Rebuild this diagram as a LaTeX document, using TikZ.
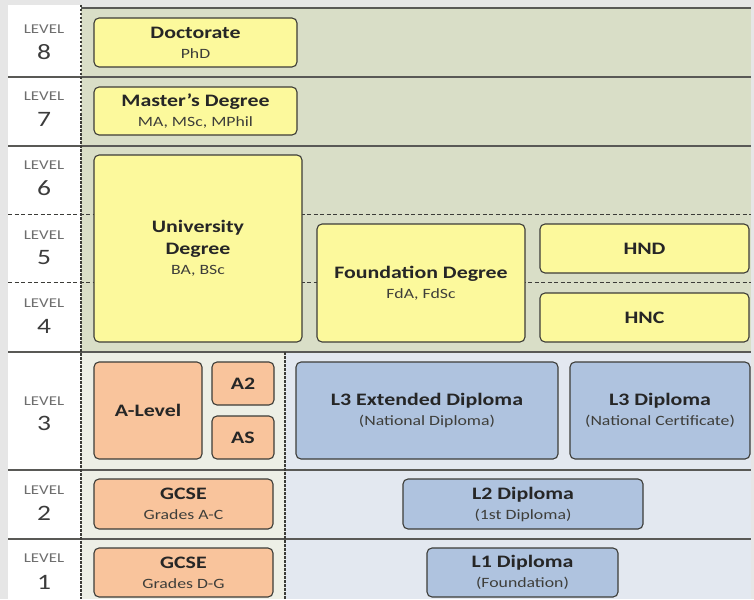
\documentclass[tikz,border=0pt]{standalone}
\usepackage{fontspec}
\setmainfont{Carlito}[FakeStretch=1.25]
\definecolor{outerbg}{HTML}{E6E6E6}
\definecolor{greenbg}{HTML}{D9DEC7}
\definecolor{lleftbg}{HTML}{EDEFE6}
\definecolor{lrightbg}{HTML}{E3E8F0}
\definecolor{yelbox}{HTML}{FCF99C}
\definecolor{orabox}{HTML}{F9C49C}
\definecolor{blubox}{HTML}{AFC3DF}
\definecolor{edge}{HTML}{3C3C38}
\definecolor{lvlgray}{HTML}{6E6E6E}
\definecolor{numgray}{HTML}{3C3C3C}
\definecolor{txt}{HTML}{262626}
\definecolor{subtxt}{HTML}{3E3E3A}
\tikzset{
  qbox/.style={draw=edge, line width=1.1pt, rounded corners=5pt, align=center, inner sep=0pt, text=txt,
               font=\fontsize{12}{20}\selectfont},
  ybox/.style={qbox, fill=yelbox},
  obox/.style={qbox, fill=orabox},
  bbox/.style={qbox, fill=blubox},
  sepline/.style={draw=edge!85!white, line width=1.3pt},
  dashline/.style={draw=edge, line width=1pt, dash pattern=on 4pt off 2.5pt},
  dotline/.style={draw=edge, line width=1.6pt, dash pattern=on 2.5pt off 1.5pt},
  lvlword/.style={inner sep=0pt, text=lvlgray, font=\fontsize{13.5}{15}\selectfont},
  lvlnum/.style={inner sep=0pt, text=numgray, font=\fontsize{22}{24}\selectfont},
}
\newcommand{\ttl}[1]{{\fontsize{17.5}{20}\selectfont\bfseries #1}}
\newcommand{\sbt}[1]{{\fontsize{14.2}{20}\selectfont\color{subtxt}#1}}
\begin{document}
\begin{tikzpicture}[x=1pt,y=-1pt]
\useasboundingbox (0,0) rectangle (754,599);
\fill[outerbg] (0,0) rectangle (754,599);
\fill[white] (8,5) rectangle (81,599);
\fill[greenbg] (81,8) rectangle (751,352);
\fill[lleftbg] (81,352) rectangle (285,599);
\fill[lrightbg] (285,352) rectangle (751,599);
% coordinates for separators
\coordinate (t0) at (81,8);   \coordinate (t1) at (751,8);
\coordinate (a0) at (8,77);   \coordinate (a1) at (751,77);
\coordinate (b0) at (8,146);  \coordinate (b1) at (751,146);
\coordinate (c0) at (8,214);  \coordinate (c1) at (751,214);
\coordinate (d0) at (8,282);  \coordinate (d1) at (751,282);
\coordinate (e0) at (8,352);  \coordinate (e1) at (751,352);
\coordinate (f0) at (8,470);  \coordinate (f1) at (751,470);
\coordinate (g0) at (8,539);  \coordinate (g1) at (751,539);
\coordinate (v0) at (81,5);   \coordinate (v1) at (81,599);
\coordinate (w0) at (285,352);\coordinate (w1) at (285,599);
\draw[sepline] (t0) -- (t1);
\draw[sepline] (a0) -- (a1);
\draw[sepline] (b0) -- (b1);
\draw[dashline] (c0) -- (c1);
\draw[dashline] (d0) -- (d1);
\draw[sepline, line width=1.8pt] (e0) -- (e1);
\draw[sepline] (f0) -- (f1);
\draw[sepline] (g0) -- (g1);
\draw[dotline] (v0) -- (v1);
\draw[dotline] (w0) -- (w1);
% level labels
\node[lvlword] (lw8) at (44,29) {LEVEL};  \node[lvlnum] (ln8) at (44,52) {8};
\node[lvlword] (lw7) at (44,96) {LEVEL};  \node[lvlnum] (ln7) at (44,119) {7};
\node[lvlword] (lw6) at (44,165) {LEVEL}; \node[lvlnum] (ln6) at (44,188) {6};
\node[lvlword] (lw5) at (44,235) {LEVEL}; \node[lvlnum] (ln5) at (44,258) {5};
\node[lvlword] (lw4) at (44,303) {LEVEL}; \node[lvlnum] (ln4) at (44,326) {4};
\node[lvlword] (lw3) at (44,401) {LEVEL}; \node[lvlnum] (ln3) at (44,423) {3};
\node[lvlword] (lw2) at (44,490) {LEVEL}; \node[lvlnum] (ln2) at (44,513) {2};
\node[lvlword] (lw1) at (44,558) {LEVEL}; \node[lvlnum] (ln1) at (44,582) {1};
% boxes
\node[ybox, minimum width=203pt, minimum height=49pt] (doc) at (195.5,42.5) {\ttl{Doctorate}\\\sbt{PhD}};
\node[ybox, minimum width=203pt, minimum height=48pt] (mas) at (195.5,111) {\ttl{Master’s Degree}\\\sbt{MA, MSc, MPhil}};
\node[ybox, minimum width=208pt, minimum height=187pt] (uni) at (198,248.5) {\ttl{University}\\[2pt]\ttl{Degree}\\\sbt{BA, BSc}};
\node[ybox, minimum width=208pt, minimum height=118pt] (fdn) at (421,283) {\ttl{Foundation Degree}\\\sbt{FdA, FdSc}};
\node[ybox, minimum width=209pt, minimum height=49pt] (hnd) at (644.5,248.5) {\ttl{HND}};
\node[ybox, minimum width=209pt, minimum height=49pt] (hnc) at (644.5,317.5) {\ttl{HNC}};
\node[obox, minimum width=108pt, minimum height=97pt] (alv) at (148,410.5) {\ttl{A-Level}};
\node[obox, minimum width=62pt, minimum height=43pt] (a2) at (243,383.5) {\ttl{A2}};
\node[obox, minimum width=62pt, minimum height=43pt] (as) at (243,437.5) {\ttl{AS}};
\node[obox, minimum width=179pt, minimum height=50pt] (gac) at (183.5,504) {\ttl{GCSE}\\\sbt{Grades A-C}};
\node[obox, minimum width=179pt, minimum height=49pt] (gdg) at (183.5,572.5) {\ttl{GCSE}\\\sbt{Grades D-G}};
\node[bbox, minimum width=262pt, minimum height=97pt] (l3e) at (427,410.5) {\ttl{L3 Extended Diploma}\\\sbt{(National Diploma)}};
\node[bbox, minimum width=180pt, minimum height=97pt] (l3d) at (660,410.5) {\ttl{L3 Diploma}\\\sbt{(National Certificate)}};
\node[bbox, minimum width=240pt, minimum height=50pt] (l2d) at (523,504) {\ttl{L2 Diploma}\\\sbt{(1st Diploma)}};
\node[bbox, minimum width=191pt, minimum height=49pt] (l1d) at (522.5,572.5) {\ttl{L1 Diploma}\\\sbt{(Foundation)}};
\end{tikzpicture}
\end{document}
